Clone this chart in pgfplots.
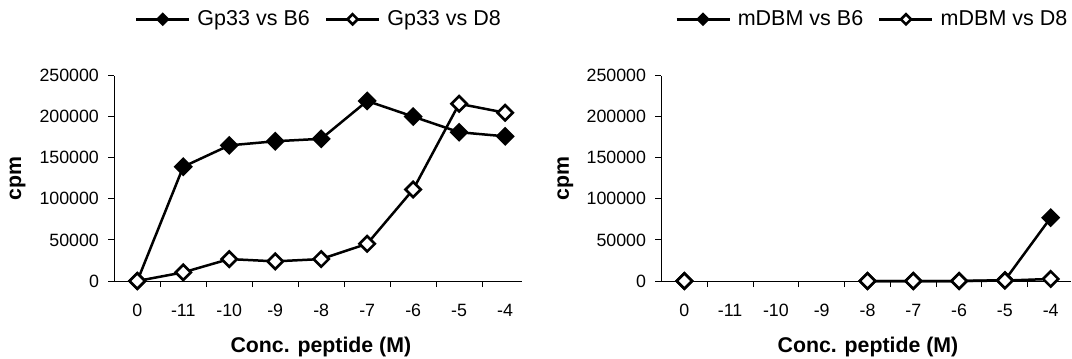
\documentclass[border=0pt]{standalone}
\usepackage{fontspec}
\setmainfont{Liberation Sans}
\usepackage{pgfplots}
\pgfplotsset{compat=1.18}
\newcommand{\lgf}{\fontsize{10.75}{12}\selectfont}
\newcommand{\lbf}{\fontsize{10.65}{12}\selectfont\bfseries}
\pgfplotsset{
 mybase/.style={
  scale only axis, height=102.75pt,
  ymin=0, ymax=250000, ytick={0,50000,100000,150000,200000,250000},
  xmin=-0.5,
  axis lines=left, axis line style={-, line width=0.5pt},
  tick align=outside, major tick length=3pt, minor tick length=3pt,
  tick style={black, line width=0.5pt},
  xtick={0,...,8}, xticklabels={0,-11,-10,-9,-8,-7,-6,-5,-4},
  every major x tick/.append style={draw=none},
  minor xtick={0.5,1.5,...,7.5},
  scaled y ticks=false,
  yticklabel={\pgfmathprintnumber[fixed,1000 sep={},assume math mode=true]{\tick}},
  tick label style={font=\fontsize{8.9}{10}\selectfont},
  xticklabel style={anchor=north, inner sep=0pt, yshift=-8.5pt},
  yticklabel style={anchor=east, inner sep=0pt, xshift=-4.5pt},
  clip=false,
  legend columns=2,
  legend style={draw=none, fill=none, inner sep=0pt, outer sep=0pt, anchor=west,
    column sep=3.5pt,
    /tikz/every even column/.append style={column sep=7.5pt}, nodes={inner sep=0pt}},
  legend image code/.code={\draw[mark repeat=2,mark phase=2,##1,mark size=1.8pt] plot coordinates {(0pt,0pt) (13.25pt,0pt) (26.5pt,0pt)};},
  unbounded coords=jump,
 },
 sB/.style={black, line width=1.25pt, mark=square*, mark size=2.75pt, mark options={rotate=45, fill=black, solid}},
 sD/.style={black, line width=1.25pt, mark=square*, mark size=2.7pt, mark options={rotate=45, fill=white, solid, line width=1.3pt}},
}
\begin{document}
\begin{tikzpicture}
\useasboundingbox (0,0) rectangle (536pt,179.5pt);
\begin{axis}[mybase, at={(57.15pt,39pt)}, anchor=south west, width=203.7pt, xmax=8.36,
 xlabel={\lbf Conc. peptide (M)}, ylabel={\lbf cpm},
 xlabel style={at={(axis description cs:0.507,-0.3484)}, anchor=base},
 ylabel style={at={(axis description cs:-0.229,0.5)}, anchor=base},
 legend style={at={(axis description cs:0.0508,1.2735)}}]
\addplot[sB] coordinates {(0,0) (1,139000) (2,165000) (3,170000) (4,173000) (5,219000) (6,200000) (7,181000) (8,176000)};
\addlegendentry{\lgf Gp33 vs B6}
\addplot[sD] coordinates {(0,0) (1,10500) (2,26700) (3,23900) (4,26700) (5,45300) (6,111300) (7,215600) (8,204700)};
\addlegendentry{\lgf Gp33 vs D8}
\end{axis}
\begin{axis}[mybase, at={(330.7pt,39pt)}, anchor=south west, width=204.95pt, xmax=8.45,
 xlabel={\lbf Conc. peptide (M)}, ylabel={\lbf cpm},
 xlabel style={at={(axis description cs:0.504,-0.3484)}, anchor=base},
 ylabel style={at={(axis description cs:-0.226,0.5)}, anchor=base},
 legend style={at={(axis description cs:0.0339,1.2735)}}]
\addplot[sB] coordinates {(0,0) (1,nan) (2,nan) (3,nan) (4,0) (5,0) (6,0) (7,1000) (8,77000)};
\addlegendentry{\lgf mDBM vs B6}
\addplot[sD] coordinates {(0,0) (1,nan) (2,nan) (3,nan) (4,0) (5,0) (6,0) (7,500) (8,2500)};
\addlegendentry{\lgf mDBM vs D8}
\end{axis}
\end{tikzpicture}
\end{document}
